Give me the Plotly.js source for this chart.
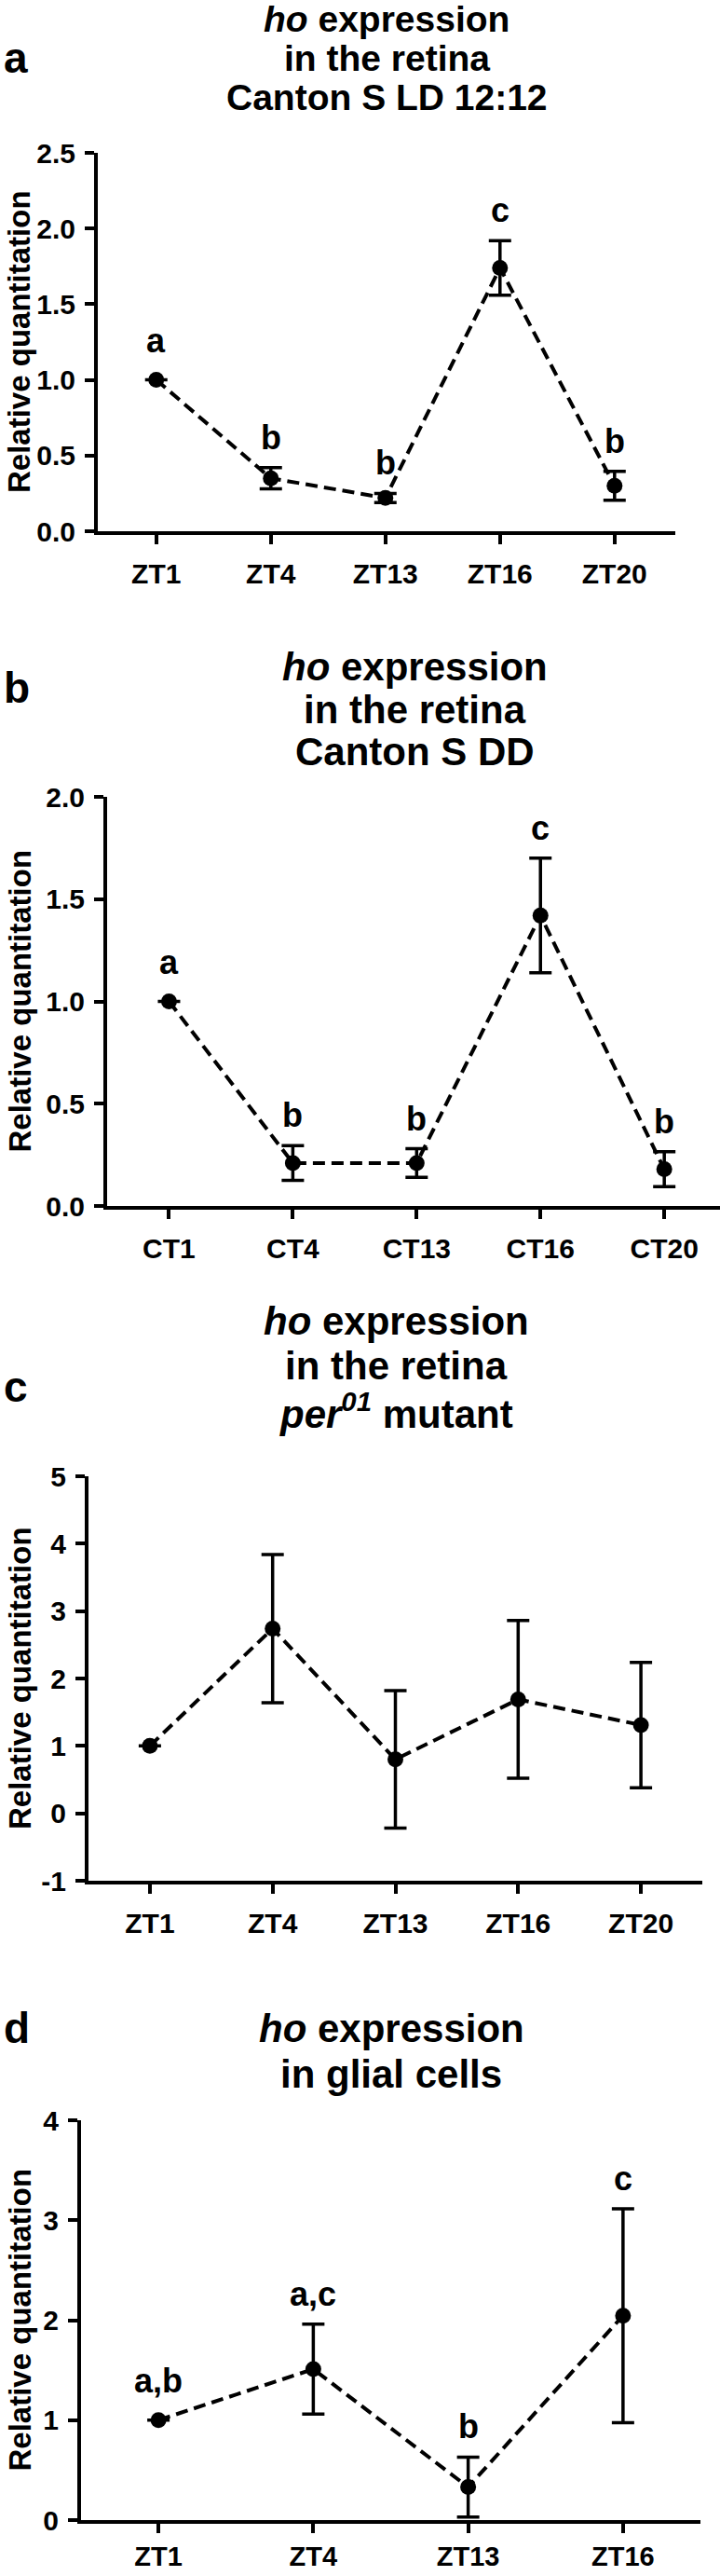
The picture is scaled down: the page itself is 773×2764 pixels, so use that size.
<!DOCTYPE html>
<html>
<head>
<meta charset="utf-8">
<script src="https://cdn.plot.ly/plotly-3.0.1.min.js"></script>
<style>
    html, body { margin: 0; padding: 0; background: #ffffff; }
    #chart { width: 773px; height: 2764px; }
</style>
</head>
<body>
<div id="chart"></div>
<script>
// ---- data ----
// a: retina, Canton S LD 12:12
const ldTimes = ['ZT1', 'ZT4', 'ZT13', 'ZT16', 'ZT20'];
const ldMean = [1.0, 0.35, 0.22, 1.74, 0.30];
const ldSem = [null, 0.07, 0.03, 0.18, 0.095];
const ldGroups = ['a', 'b', 'b', 'c', 'b'];
const ldTicks = [0, 0.5, 1, 1.5, 2, 2.5];
const ldTickText = ['0.0', '0.5', '1.0', '1.5', '2.0', '2.5'];

// b: retina, Canton S DD
const ddTimes = ['CT1', 'CT4', 'CT13', 'CT16', 'CT20'];
const ddMean = [1.0, 0.21, 0.21, 1.42, 0.18];
const ddSem = [null, 0.085, 0.07, 0.28, 0.085];
const ddGroups = ['a', 'b', 'b', 'c', 'b'];
const ddTicks = [0, 0.5, 1, 1.5, 2];
const ddTickText = ['0.0', '0.5', '1.0', '1.5', '2.0'];

// c: retina, per01 mutant
const perTimes = ['ZT1', 'ZT4', 'ZT13', 'ZT16', 'ZT20'];
const perMean = [1.0, 2.74, 0.80, 1.69, 1.31];
const perSem = [null, 1.1, 1.02, 1.17, 0.93];
const perTicks = [-1, 0, 1, 2, 3, 4, 5];
const perTickText = ['-1', '0', '1', '2', '3', '4', '5'];

// d: glial cells
const gliaTimes = ['ZT1', 'ZT4', 'ZT13', 'ZT16'];
const gliaMean = [1.0, 1.51, 0.33, 2.045];
const gliaSem = [null, 0.45, 0.30, 1.07];
const gliaGroups = ['a,b', 'a,c', 'b', 'c'];
const gliaTicks = [0, 1, 2, 3, 4];
const gliaTickText = ['0', '1', '2', '3', '4'];

// ---- page geometry (pixels) ----
const W = 773, H = 2764;
const FONT = 'Liberation Sans, Arial, Helvetica, sans-serif';
function px(x) { return x / W; }
function py(y) { return 1 - y / H; }

const panels = [
    {
        letter: 'a', letterY: 62, titleX: 415, titleSize: 39, standoff: 6, xTickSize: 30,
        titles: ['<i>ho</i> expression', 'in the retina', 'Canton S LD 12:12'], titleY: [20, 62, 105],
        x0: 105, x1: 725, y0: 164, y1: 570, xr: [-0.51, 4.53], yr: [0, 2.5],
        cats: ldTimes, mean: ldMean, sem: ldSem, groups: ldGroups, ticks: ldTicks, tickText: ldTickText,
    },
    {
        letter: 'b', letterY: 738, titleX: 445, titleSize: 42, standoff: 6, xTickSize: 30,
        titles: ['<i>ho</i> expression', 'in the retina', 'Canton S DD'], titleY: [716, 761, 807],
        x0: 115, x1: 773, y0: 855, y1: 1294, xr: [-0.5, 4.45], yr: [0, 2],
        cats: ddTimes, mean: ddMean, sem: ddSem, groups: ddGroups, ticks: ddTicks, tickText: ddTickText,
    },
    {
        letter: 'c', letterY: 1488, titleX: 425, titleSize: 42, standoff: 6, xTickSize: 30,
        titles: ['<i>ho</i> expression', 'in the retina', '<i>per<sup>01</sup></i> mutant'], titleY: [1418, 1465, 1514],
        x0: 95, x1: 754, y0: 1584, y1: 2018, xr: [-0.5, 4.5], yr: [-1, 5],
        cats: perTimes, mean: perMean, sem: perSem, groups: null, ticks: perTicks, tickText: perTickText,
    },
    {
        letter: 'd', letterY: 2176, titleX: 420, titleSize: 42, standoff: 0, xTickSize: 29,
        titles: ['<i>ho</i> expression', 'in glial cells'], titleY: [2176, 2225],
        x0: 87, x1: 752, y0: 2275, y1: 2704, xr: [-0.5, 3.5], yr: [0, 4],
        cats: gliaTimes, mean: gliaMean, sem: gliaSem, groups: gliaGroups, ticks: gliaTicks, tickText: gliaTickText,
    },
];

let data = [];
let layout = {
    width: W,
    height: H,
    margin: { l: 0, r: 0, t: 0, b: 0, pad: 0 },
    paper_bgcolor: '#ffffff',
    plot_bgcolor: '#ffffff',
    showlegend: false,
    font: { family: FONT, color: '#000000' },
    annotations: [],
};

panels.forEach((p, i) => {
    let n = i === 0 ? '' : String(i + 1);
    let xa = 'x' + n, ya = 'y' + n;

    data.push({
        type: 'scatter',
        x: p.cats,
        y: p.mean,
        xaxis: xa,
        yaxis: ya,
        mode: 'lines+markers',
        cliponaxis: false,
        line: { color: '#000000', width: 4, dash: '13px,7px' },
        marker: { color: '#000000', size: 17 },
        error_y: {
            type: 'data',
            array: p.sem,
            visible: true,
            color: '#000000',
            thickness: 3.5,
            width: 12,
        },
    });

    layout['xaxis' + n] = {
        type: 'category',
        categoryorder: 'array',
        categoryarray: p.cats,
        domain: [px(p.x0), px(p.x1)],
        range: p.xr,
        anchor: ya,
        showline: true,
        linewidth: 4,
        linecolor: '#000000',
        showgrid: false,
        zeroline: false,
        ticks: 'outside',
        ticklen: 10,
        tickwidth: 4,
        tickcolor: '#000000',
        ticklabelstandoff: p.standoff,
        tickfont: { family: FONT, size: p.xTickSize, color: '#000000', weight: 'bold' },
        fixedrange: true,
    };
    layout['yaxis' + n] = {
        domain: [py(p.y1), py(p.y0)],
        range: p.yr,
        anchor: xa,
        showline: true,
        linewidth: 4,
        linecolor: '#000000',
        showgrid: false,
        zeroline: false,
        ticks: 'outside',
        ticklen: 10,
        tickwidth: 4,
        tickcolor: '#000000',
        tickmode: 'array',
        tickvals: p.ticks,
        ticktext: p.tickText,
        ticklabelstandoff: 4,
        tickfont: { family: FONT, size: 30, color: '#000000', weight: 'bold' },
        fixedrange: true,
    };

    // panel letter
    layout.annotations.push({
        text: p.letter, xref: 'paper', yref: 'paper', x: px(2), y: py(p.letterY),
        xanchor: 'left', yanchor: 'middle', showarrow: false,
        font: { family: FONT, size: 46, color: '#000000', weight: 'bold' },
    });

    // panel title, one line per annotation
    p.titles.forEach((t, k) => {
        layout.annotations.push({
            text: t, xref: 'paper', yref: 'paper', x: px(p.titleX), y: py(p.titleY[k]),
            xanchor: 'center', yanchor: 'middle', showarrow: false,
            font: { family: FONT, size: p.titleSize, color: '#000000', weight: 'bold' },
        });
    });

    // y axis title
    layout.annotations.push({
        text: 'Relative quantitation', xref: 'paper', yref: 'paper',
        x: px(21), y: py((p.y0 + p.y1) / 2), textangle: -90,
        xanchor: 'center', yanchor: 'middle', showarrow: false,
        font: { family: FONT, size: 33, color: '#000000', weight: 'bold' },
    });

    // significance letters above each point / error bar
    if (p.groups) {
        p.groups.forEach((g, k) => {
            let e = p.sem[k];
            layout.annotations.push({
                text: g, xref: xa, yref: ya, x: k, y: p.mean[k] + (e || 0),
                xanchor: 'center', yanchor: 'bottom', yshift: e ? 10 : 20,
                showarrow: false,
                font: { family: FONT, size: 36, color: '#000000', weight: 'bold' },
            });
        });
    }
});

Plotly.newPlot('chart', data, layout, { staticPlot: true, displayModeBar: false });
</script>
</body>
</html>
